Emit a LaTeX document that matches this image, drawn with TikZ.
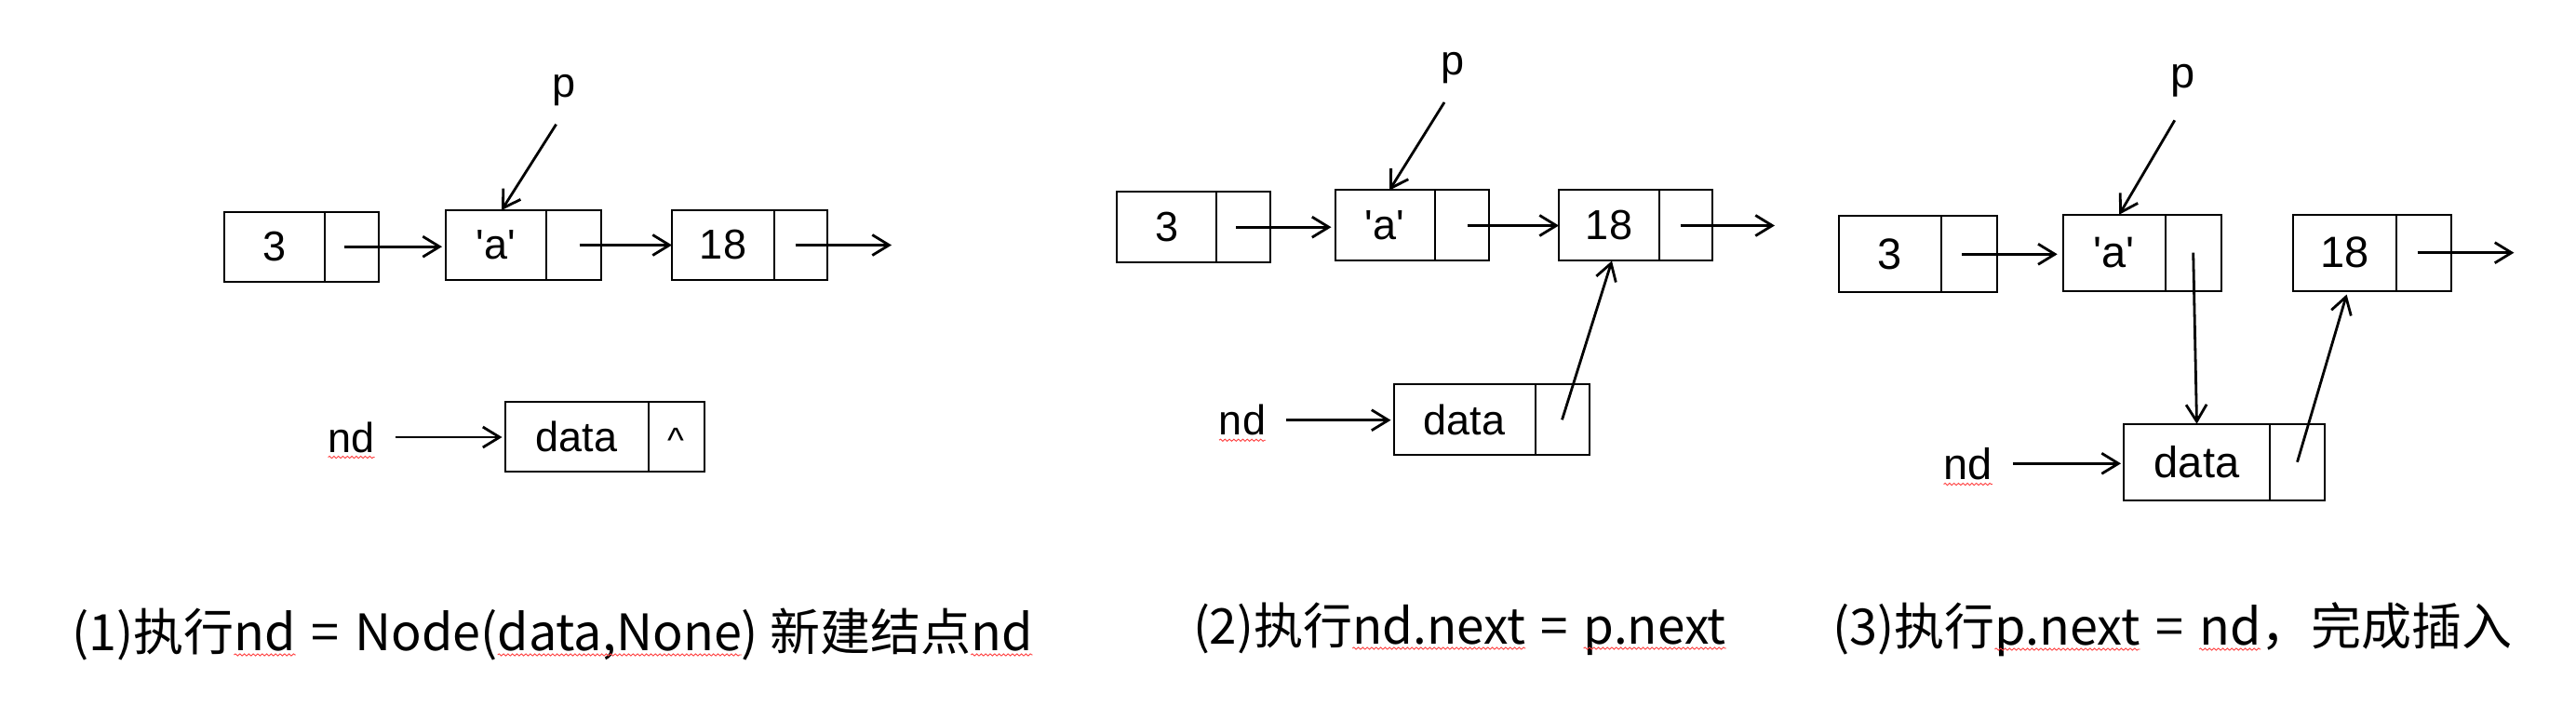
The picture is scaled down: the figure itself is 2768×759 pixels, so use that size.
\documentclass[tikz,border=0pt]{standalone}
\usepackage{fontspec}
\setmainfont{Liberation Sans}[Ligatures=TeXOff]
\newfontfamily\cjk{Noto Sans CJK SC}
\usetikzlibrary{arrows.meta,calc,decorations.pathmorphing}

\newcommand{\lnode}[7]{%
  \node[cell, minimum width=#4, minimum height=#6, anchor=west] (#1d) at (#2,#3) {#7};
  \node[cell, minimum width=#5, minimum height=#6, anchor=west] (#1p) at (#1d.east) {};}
\newcommand{\gap}{\hspace*{0.31em}}

\tikzset{
  cell/.style={draw, line width=1pt, inner sep=0pt, outer sep=0pt, font=\fontsize{22.5pt}{26pt}\selectfont},
  lbl/.style={inner sep=0pt, outer sep=0pt, font=\fontsize{22.5pt}{26pt}\selectfont},
  arr/.style={line width=1.4pt, -{Straight Barb[length=9pt,width=11pt]}},
  squig/.style={draw=red!75, line width=0.45pt, decorate, decoration={snake, amplitude=0.55pt, segment length=2.4pt}},
  captxt/.style={inner sep=0pt, outer sep=0pt, anchor=base west, font=\cjk\fontsize{27pt}{32pt}\selectfont},
}

\begin{document}
\begin{tikzpicture}[x=0.5pt,y=-0.5pt]
\useasboundingbox (0,0) rectangle (2768,759);
\fill[white] (0,0) rectangle (2768,759);

% ---------------- panel 1 ----------------
\lnode{aa}{241}{265.2}{54pt}{29pt}{37.5pt}{3}
\lnode{ab}{479}{263.5}{54pt}{29.5pt}{37.5pt}{'a'}
\lnode{ac}{722}{263.5}{55pt}{28.5pt}{37.5pt}{18}
\lnode{ad}{542.5}{469.2}{77pt}{30pt}{37.5pt}{data}
\node[lbl, font=\fontsize{19pt}{22pt}\selectfont] (caret) at ($(adp.center)+(0,4)$) {\textasciicircum};
\coordinate (ae) at (958,263.5);
\node[lbl] (ap) at (605.6,96.7) {p};
\node[lbl] (and) at (377.6,470) {nd};
\draw[arr, shorten >=2pt] ([xshift=-4pt]aap.center) -- (aap.center -| abd.west);
\draw[arr] ([xshift=3pt]abp.center) -- (abp.center -| acd.west);
\draw[arr] ([xshift=-3pt]acp.center) -- (ae);
\draw[arr] ($(ap.center)+(-8,37)$) -- ($(abd.north)+(6,0)$);
\draw[arr, shorten <=11pt, shorten >=1.5pt] (and.east) -- (and.east -| add.west);
\draw[squig] ([yshift=-2.5pt]and.south west) -- ([yshift=-2.5pt]and.south east);

% ---------------- panel 2 ----------------
\lnode{ba}{1200.4}{244.2}{53.5pt}{29pt}{38pt}{3}
\lnode{bb}{1434.5}{242.5}{53.5pt}{29pt}{38pt}{'a'}
\lnode{bc}{1675}{242.5}{54pt}{28.5pt}{38pt}{18}
\lnode{bd}{1497.5}{451.3}{76pt}{29pt}{38pt}{data}
\coordinate (be) at (1907,242.5);
\node[lbl] (bp) at (1560.5,73) {p};
\node[lbl] (bnd) at (1335,451.7) {nd};
\draw[arr, shorten >=2pt] ([xshift=-4pt]bap.center) -- (bap.center -| bbd.west);
\draw[arr] ([xshift=3pt]bbp.center) -- (bbp.center -| bcd.west);
\draw[arr] ([xshift=-3pt]bcp.center) -- (be);
\draw[arr] ($(bp.center)+(-8.5,37)$) -- ($(bbd.north)+(5,0)$);
\draw[arr, shorten <=11pt, shorten >=1.5pt] (bnd.east) -- (bnd.east -| bdd.west);
\draw[arr] (bdp.center) -- ($(bcd.south)+(3,0)$);
\draw[squig] ([yshift=-2.5pt]bnd.south west) -- ([yshift=-2.5pt]bnd.south east);

% ---------------- panel 3 ----------------
\begin{scope}[cell/.append style={font=\fontsize{23.5pt}{27pt}\selectfont},
              lbl/.append style={font=\fontsize{23.5pt}{27pt}\selectfont}]
\lnode{ca}{1976}{273.3}{55pt}{30pt}{41pt}{3}
\lnode{cb}{2216.7}{271.7}{55pt}{30pt}{41pt}{'a'}
\lnode{cc}{2464.2}{271.7}{55.5pt}{29.5pt}{41pt}{18}
\lnode{cd}{2282}{496.7}{78.5pt}{29.5pt}{41pt}{data}
\coordinate (ce) at (2701.4,271.7);
\node[lbl] (cp) at (2345.8,86.7) {p};
\node[lbl] (cnd) at (2114.7,498.3) {nd};
\draw[arr, shorten >=3pt] ([xshift=-4pt]cap.center) -- (cap.center -| cbd.west);
\draw[arr] ([xshift=-3.5pt]ccp.center) -- (ce);
\draw[arr] ($(cp.center)+(-9,42.6)$) -- ($(cbd.north)+(5.5,0)$);
\draw[arr] (cbp.center) -- (cdd.north);
\draw[arr, shorten <=11pt, shorten >=1.5pt] (cnd.east) -- (cnd.east -| cdd.west);
\draw[arr, shorten >=2pt] (cdp.center) -- ($(ccd.south)+(3,0)$);
\draw[squig] ([yshift=-2.5pt]cnd.south west) -- ([yshift=-2.5pt]cnd.south east);
\end{scope}

% ---------------- captions ----------------
\node[captxt] (c1a) at (77,699) {(1)执行};
\node[captxt] (c1b) at (c1a.base east) {nd};
\node[captxt] (c1c) at (c1b.base east) {\gap=\gap Node(};
\node[captxt] (c1d) at (c1c.base east) {data,None};
\node[captxt] (c1e) at (c1d.base east) {) 新建结点};
\node[captxt] (c1f) at (c1e.base east) {nd};
\foreach \w in {c1b,c1d,c1f}
  \draw[squig] ([yshift=-2.5pt]\w.base west) -- ([yshift=-2.5pt]\w.base east);

\begin{scope}[captxt/.append style={font=\cjk\fontsize{26.5pt}{32pt}\selectfont}]
\node[captxt] (c2a) at (1282,692) {(2)执行};
\node[captxt] (c2b) at (c2a.base east) {nd.next};
\node[captxt] (c2c) at (c2b.base east) {\gap=\gap\null};
\node[captxt] (c2d) at (c2c.base east) {p.next};
\foreach \w in {c2b,c2d}
  \draw[squig] ([yshift=-2.5pt]\w.base west) -- ([yshift=-2.5pt]\w.base east);
\end{scope}

\node[captxt] (c3a) at (1969,693) {(3)执行};
\node[captxt] (c3b) at (c3a.base east) {p.next};
\node[captxt] (c3c) at (c3b.base east) {\gap=\gap\null};
\node[captxt] (c3d) at (c3c.base east) {nd};
\node[captxt] (c3e) at (c3d.base east) {，完成插入};
\foreach \w in {c3b,c3d}
  \draw[squig] ([yshift=-2.5pt]\w.base west) -- ([yshift=-2.5pt]\w.base east);
\end{tikzpicture}
\end{document}
